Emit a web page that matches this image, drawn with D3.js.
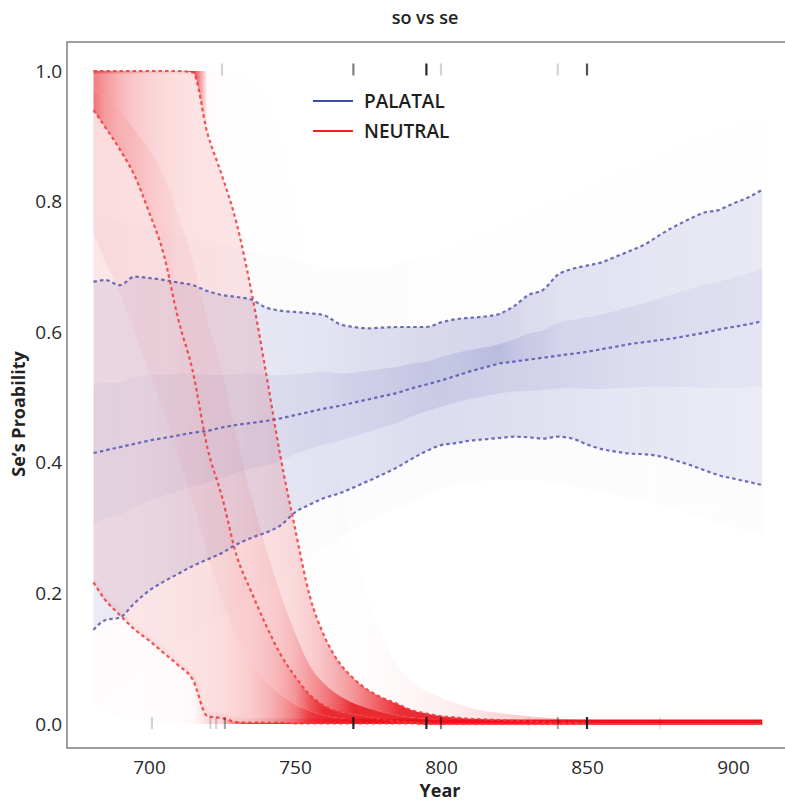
<!DOCTYPE html>
<html>
<head>
<meta charset="utf-8">
<script src="https://cdn.jsdelivr.net/npm/d3@7"></script>
<style>
  body { margin: 0; background: #fff; }
  svg { display: block; }
  text { font-family: "Open Sans", "Noto Sans", sans-serif; }
</style>
</head>
<body>
<svg id="chart"></svg>
<script>
// Year grid shared by every quantile series
const years = [681, 685, 690, 695, 700, 705, 710, 715, 720, 725, 730, 735, 740, 745, 750, 755,
  760, 765, 770, 775, 780, 785, 790, 795, 800, 805, 810, 815, 820, 825, 830, 835, 840, 845, 850,
  855, 860, 865, 870, 875, 880, 885, 890, 895, 900, 905, 910];

// PALATAL posterior (blue)
const palatalMax = [.78, .78, .77, .765, .76, .755, .75, .745, .74, .735, .73, .725, .72, .715, .71, .705,
  .70, .70, .70, .70, .70, .705, .71, .715, .72, .73, .74, .75, .76, .77, .78, .79, .80, .81, .82,
  .83, .84, .85, .86, .87, .88, .89, .90, .91, .915, .922, .93];
const palatalHigh = [.677, .680, .672, .685, .683, .680, .676, .672, .663, .657, .654, .650, .638, .633, .631, .629,
  .626, .613, .608, .606, .607, .608, .608, .608, .615, .620, .622, .624, .628, .640, .657, .665, .688, .697, .702,
  .707, .716, .725, .735, .749, .762, .773, .783, .787, .797, .806, .818];
const palatalQ75 = [.52, .523, .523, .531, .534, .535, .536, .536, .535, .535, .536, .537, .534, .534, .536, .538,
  .540, .537, .538, .541, .544, .547, .552, .555, .562, .568, .573, .577, .582, .589, .598, .603, .614, .619, .623,
  .627, .633, .639, .645, .652, .659, .666, .673, .677, .684, .690, .697];
const palatalMid = [.415, .419, .424, .429, .434, .438, .442, .446, .449, .454, .458, .461, .464, .468, .473, .478,
  .483, .487, .492, .497, .502, .507, .514, .520, .526, .533, .540, .546, .552, .555, .558, .561, .564, .567, .570,
  .574, .578, .582, .585, .588, .591, .595, .599, .604, .608, .612, .617];
const palatalQ25 = [.307, .315, .320, .331, .342, .350, .357, .364, .370, .377, .385, .391, .396, .402, .413, .421,
  .428, .433, .440, .447, .454, .461, .471, .479, .486, .492, .498, .502, .506, .509, .510, .511, .514, .515, .513,
  .513, .514, .515, .516, .517, .516, .516, .515, .515, .515, .516, .517];
const palatalLow = [.144, .159, .163, .185, .204, .218, .230, .242, .252, .262, .275, .285, .293, .304, .324, .336,
  .346, .353, .362, .372, .382, .393, .406, .418, .427, .430, .434, .436, .438, .440, .439, .437, .440, .437, .428,
  .421, .417, .414, .413, .410, .404, .397, .389, .381, .376, .371, .366];
const palatalMin = [.03, .04, .06, .075, .09, .105, .12, .135, .15, .165, .18, .195, .21, .225, .24, .255,
  .27, .285, .30, .31, .32, .33, .34, .35, .36, .365, .37, .372, .375, .375, .375, .372, .37, .365, .36,
  .355, .35, .345, .34, .335, .33, .322, .315, .307, .30, .295, .29];

// NEUTRAL posterior (red)
const neutralMax = [1, 1, 1, 1, 1, 1, 1, 1, 1, 1, 1, .99, .96, .90, .80, .66,
  .50, .37, .27, .19, .13, .09, .065, .05, .04, .032, .025, .02, .017, .014, .012, .01, .008, .007, .006,
  .005, .004, .004, .003, .003, .003, .003, .003, .003, .003, .003, .003];
const neutralHigh = [1, 1, 1, 1, 1, 1, 1, .998, .905, .84, .767, .664, .54, .41, .30, .197,
  .135, .095, .07, .052, .04, .031, .021, .016, .012, .01, .008, .007, .006, .005, .004, .003, .002, .002, .001,
  0, 0, 0, 0, 0, 0, 0, 0, 0, 0, 0, 0];
const neutralQ75 = [.97, .96, .94, .91, .88, .84, .78, .71, .62, .54, .44, .35, .27, .20, .14, .09,
  .062, .044, .032, .024, .018, .013, .01, .008, .006, .005, .004, .003, .003, .002, .002, .001, .001, 0, 0,
  0, 0, 0, 0, 0, 0, 0, 0, 0, 0, 0, 0];
const neutralMid = [.94, .914, .88, .84, .784, .72, .62, .54, .423, .348, .258, .203, .152, .107, .073, .045,
  .028, .019, .015, .011, .007, .004, .002, .001, 0, 0, 0, 0, 0, 0, 0, 0, 0, 0, 0,
  0, 0, 0, 0, 0, 0, 0, 0, 0, 0, 0, 0];
const neutralQ25 = [.75, .71, .66, .60, .54, .48, .41, .34, .26, .19, .135, .095, .066, .045, .03, .02,
  .013, .009, .006, .004, .003, .002, .001, 0, 0, 0, 0, 0, 0, 0, 0, 0, 0, 0, 0,
  0, 0, 0, 0, 0, 0, 0, 0, 0, 0, 0, 0];
const neutralLow = [.217, .19, .167, .145, .128, .109, .09, .068, .012, .009, .003, .002, .002, .002, .001, .001,
  .001, .001, .001, .001, .001, .001, .001, 0, 0, 0, 0, 0, 0, 0, 0, 0, 0, 0, 0,
  0, 0, 0, 0, 0, 0, 0, 0, 0, 0, 0, 0];
const neutralMin = [.03, .02, .012, .006, .003, 0, 0, 0, 0, 0, 0, 0, 0, 0, 0, 0,
  0, 0, 0, 0, 0, 0, 0, 0, 0, 0, 0, 0, 0, 0, 0, 0, 0, 0, 0,
  0, 0, 0, 0, 0, 0, 0, 0, 0, 0, 0, 0];

// Observed tokens (rug), with rough counts
const rugTopYears = [725, 770, 795, 800, 840, 850];
const rugTopCounts = [1, 3, 5, 1, 1, 4];
const rugBottomYears = [701, 721, 723, 726, 770, 795, 800, 830, 840, 850, 875];
const rugBottomCounts = [1, 1, 1, 2, 5, 5, 3, 0.4, 2, 5, 0.5];

const xTicks = [700, 750, 800, 850, 900];
const yTicks = [0, 0.2, 0.4, 0.6, 0.8, 1.0];
const legendLabels = ["PALATAL", "NEUTRAL"];

const width = 785, height = 802;
const panel = { left: 67, top: 42, right: 790, bottom: 748 };

const svg = d3.select("#chart").attr("width", width).attr("height", height);
const defs = svg.append("defs");

const x = d3.scaleLinear().domain([700, 900]).range([149, 733]);
const y = d3.scaleLinear().domain([0, 1]).range([724, 71]);

defs.append("clipPath").attr("id", "panel-clip")
  .append("rect")
  .attr("x", panel.left).attr("y", panel.top)
  .attr("width", panel.right - panel.left).attr("height", panel.bottom - panel.top);

const plotArea = svg.append("g").attr("clip-path", "url(#panel-clip)");

// opacity follows share of samples / band thickness at each year
const x0 = x(years[0]), x1 = x(years[years.length - 1]);
function densityGradient(id, color, lo, hi, frac, k, maxA) {
  const grad = defs.append("linearGradient")
    .attr("id", id)
    .attr("gradientUnits", "userSpaceOnUse")
    .attr("x1", x0).attr("x2", x1).attr("y1", 0).attr("y2", 0);
  years.forEach((yr, i) => {
    const h = Math.max(0.5, y(lo[i]) - y(hi[i]));
    grad.append("stop")
      .attr("offset", (x(yr) - x0) / (x1 - x0))
      .attr("stop-color", color)
      .attr("stop-opacity", Math.min(maxA, k * frac / h));
  });
}

function bandPath(g, lo, hi) {
  const area = d3.area()
    .x((d, i) => x(years[i]))
    .y0((d, i) => y(lo[i]))
    .y1((d, i) => y(hi[i]))
    .curve(d3.curveMonotoneX);
  return g.append("path").datum(years).attr("d", area);
}

function drawCloud(g, name, color, qs, k, maxA, baseA) {
  // qs: [min, 2.5%, 25%, 50%, 75%, 97.5%, max]
  bandPath(g, qs[1], qs[5]).attr("fill", color).attr("fill-opacity", baseA);
  const fracs = [0.025, 0.225, 0.25, 0.25, 0.225, 0.025];
  fracs.forEach((f, b) => {
    const id = `grad-${name}-${b}`;
    densityGradient(id, color, qs[b], qs[b + 1], f, k, maxA);
    bandPath(g, qs[b], qs[b + 1]).attr("fill", `url(#${id})`);
  });
}

const blueCloud = plotArea.append("g");
drawCloud(blueCloud, "pal", "#4646a8",
  [palatalMin, palatalLow, palatalQ25, palatalMid, palatalQ75, palatalHigh, palatalMax], 26, 0.5, 0.05);

const redCloud = plotArea.append("g").style("mix-blend-mode", "multiply");
drawCloud(redCloud, "neu", "#e8141c",
  [neutralMin, neutralLow, neutralQ25, neutralMid, neutralQ75, neutralHigh, neutralMax], 45, 0.9, 0.07);

// curves piled up at zero and at one
densityGradient("grad-neu-floor", "#e8141c", neutralLow, neutralQ75, 0.25, 71, 1);
redCloud.append("path")
  .datum(neutralLow)
  .attr("d", d3.line().x((d, i) => x(years[i])).y(d => y(d) - 2).curve(d3.curveMonotoneX))
  .attr("fill", "none")
  .attr("stroke", "url(#grad-neu-floor)")
  .attr("stroke-width", 5);

densityGradient("grad-neu-ceil", "#e8141c", neutralMid, neutralHigh, 0.5, 35, 1);
redCloud.append("path")
  .datum(neutralHigh)
  .attr("d", d3.line().defined(d => d >= 0.99).x((d, i) => x(years[i])).y(d => y(d) + 1))
  .attr("fill", "none")
  .attr("stroke", "url(#grad-neu-ceil)")
  .attr("stroke-width", 3);

// quantile lines
function dashed(series, color) {
  plotArea.append("path")
    .datum(series)
    .attr("d", d3.line().x((d, i) => x(years[i])).y(d => y(d)).curve(d3.curveMonotoneX))
    .attr("fill", "none")
    .attr("stroke", color)
    .attr("stroke-width", 2.2)
    .attr("stroke-dasharray", "3.5,3")
    .attr("opacity", 0.85);
}
[palatalLow, palatalMid, palatalHigh].forEach(s => dashed(s, "#5656b0"));
[neutralLow, neutralMid, neutralHigh].forEach(s => dashed(s, "#f03a3a"));

// rugs
function rug(yrs, counts, yPos) {
  plotArea.selectAll(null)
    .data(yrs)
    .enter()
    .append("line")
    .attr("x1", d => x(d)).attr("x2", d => x(d))
    .attr("y1", yPos - 6).attr("y2", yPos + 6)
    .attr("stroke", "#111")
    .attr("stroke-width", 2.2)
    .attr("opacity", (d, i) => Math.min(0.95, counts[i] * 0.18));
}
rug(rugTopYears, rugTopCounts, y(1) - 1.5);
rug(rugBottomYears, rugBottomCounts, y(0) - 1);

// panel frame
svg.append("rect")
  .attr("x", panel.left).attr("y", panel.top)
  .attr("width", panel.right - panel.left).attr("height", panel.bottom - panel.top)
  .attr("fill", "none")
  .attr("stroke", "#6b6b6b")
  .attr("stroke-width", 1.3);

// axes
const yAxis = svg.append("g")
  .attr("transform", `translate(${panel.left},0)`)
  .call(d3.axisLeft(y).tickValues(yTicks).tickFormat(d3.format(".1f")).tickSize(0).tickPadding(5));
const xAxis = svg.append("g")
  .attr("transform", `translate(0,${panel.bottom})`)
  .call(d3.axisBottom(x).tickValues(xTicks).tickSize(0).tickPadding(13));
[xAxis, yAxis].forEach(a => {
  a.select(".domain").remove();
  a.selectAll("line").remove();
  a.selectAll("text")
    .style("font-family", "'Open Sans', sans-serif")
    .style("font-size", "19px")
    .attr("fill", "#2a2a2a");
});

// titles
svg.append("text")
  .attr("x", 425).attr("y", 24)
  .attr("text-anchor", "middle")
  .style("font-size", "18px").style("font-weight", 600)
  .attr("fill", "#222")
  .text("so vs se");

svg.append("text")
  .attr("x", 440).attr("y", 797)
  .attr("text-anchor", "middle")
  .style("font-size", "18px").style("font-weight", 700)
  .attr("fill", "#222")
  .text("Year");

svg.append("text")
  .attr("transform", "translate(25,414) rotate(-90)")
  .attr("text-anchor", "middle")
  .style("font-size", "18px").style("font-weight", 700)
  .attr("fill", "#222")
  .text("Se\u2019s Proability");

// legend
const legendColors = ["#3b4ba6", "#ee2222"];
const legend = svg.append("g");
legendLabels.forEach((lab, i) => {
  const ly = 101 + i * 30;
  legend.append("line")
    .attr("x1", 313).attr("x2", 353).attr("y1", ly).attr("y2", ly)
    .attr("stroke", legendColors[i]).attr("stroke-width", 2);
  legend.append("text")
    .attr("x", 364).attr("y", ly + 7)
    .style("font-size", "19px").style("font-weight", 600)
    .attr("fill", "#1e1e1e")
    .text(lab);
});
</script>
</body>
</html>
